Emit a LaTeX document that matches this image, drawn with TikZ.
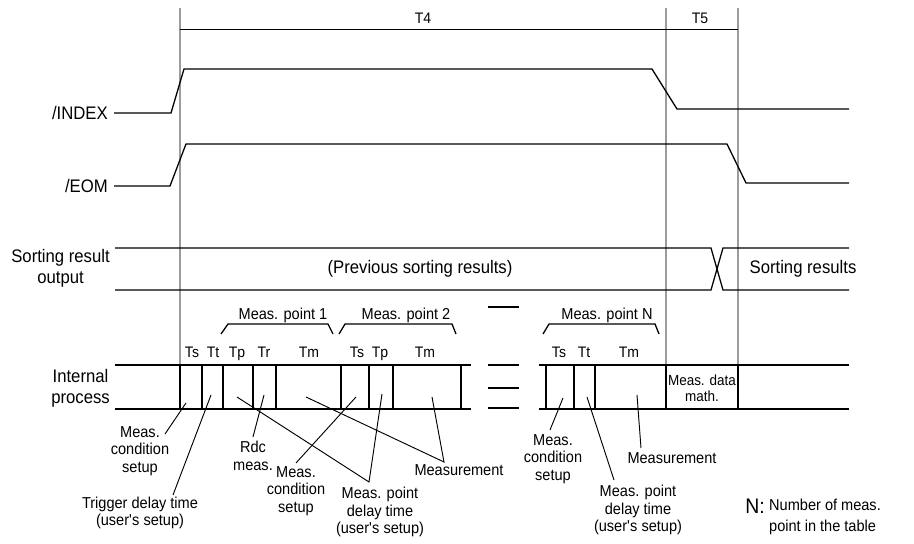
\documentclass[tikz,border=0pt]{standalone}
\usepackage{fontspec}
\setmainfont{Liberation Sans}[FakeStretch=0.92]
\usepackage{tikz}
\usetikzlibrary{positioning}
\definecolor{tdGrid}{HTML}{9C9C9C}
\newcommand{\usersetup}{(user\textquotesingle s setup)}
\tikzset{
  sig/.style={draw=black, line width=1.1pt},
  gridline/.style={draw=tdGrid, line width=0.9pt},
  leader/.style={draw=black, line width=0.8pt},
  rowlabel/.style={
    font=\fontsize{15.5}{18}\selectfont,
    align=center,
    anchor=east,
    inner sep=0pt
  },
  busText/.style={font=\fontsize{15.5}{18}\selectfont, inner sep=0pt},
  phase/.style={font=\fontsize{13}{15}\selectfont, inner sep=0pt, anchor=base},
  note/.style={
    font=\fontsize{13.5}{15}\selectfont,
    align=center,
    inner sep=0pt
  }
}

\begin{document}
\begin{tikzpicture}[x=0.03cm, y=-0.03cm]
  \useasboundingbox (0,0) rectangle (914,544);

  \draw[gridline] (180,8) -- (180,365);
  \draw[gridline] (666,8) -- (666,365);
  \draw[gridline] (738,8) -- (738,365);
  \draw[sig] (180,29.5) -- (738,29.5);
  \node[phase] (t4) at (423,24) {T4};
  \node[phase] (t5) at (700,24) {T5};

  \node[rowlabel] (index) at (108,113) {/INDEX};
  \draw[sig] (114,113) -- (171,113) -- (184,69) -- (652,69) -- (677,109) -- (849,109);

  \node[rowlabel] (eom) at (108,186) {/EOM};
  \draw[sig] (114,186) -- (170,186) -- (186,144) -- (727,144) -- (746,183) -- (849,183);

  \node[rowlabel] (sortout) at (110,268) {Sorting result\\output};
  \draw[sig] (115,248) -- (711,248) -- (723,290) -- (849,290);
  \draw[sig] (115,290) -- (711,290) -- (723,248) -- (849,248);
  \node[busText] (prevres) at (420,269) {(Previous sorting results)};
  \node[busText] (newres) at (803,269) {Sorting results};

  \node[rowlabel] (internal) at (110,388) {Internal\\process};
  \draw[sig] (115,365) -- (471,365);
  \draw[sig] (115,409) -- (471,409);
  \foreach \x in {180,202,223,253,276,341,369,393,461}
    \draw[sig] (\x,365) -- (\x,409);
  \foreach \y in {307,365,388,408}
    \draw[sig] (488,\y) -- (519,\y);
  \draw[sig] (539,365) -- (849,365);
  \draw[sig] (539,409) -- (849,409);
  \foreach \x in {546,574,595,666,738}
    \draw[sig] (\x,365) -- (\x,409);
  \node[note, font=\fontsize{12.5}{14}\selectfont] (math) at (702,388) {Meas. data\\math.};

  \draw[sig] (221,334) -- (228,324) -- (328,324) -- (333,334);
  \draw[sig] (339,334) -- (345,324) -- (452,324) -- (456,334);
  \draw[sig] (543,334) -- (549,324) -- (655,324) -- (659,334);
  \node[note] (mp1) at (283,315) {Meas. point 1};
  \node[note] (mp2) at (406,315) {Meas. point 2};
  \node[note] (mpn) at (607,315) {Meas. point N};

  \foreach \x/\t [count=\i] in {192/Ts,213/Tt,237/Tp,264/Tr,309/Tm,357/Ts,380/Tp,425/Tm,559/Ts,584/Tt,629/Tm}
    \node[phase] (ph\i) at (\x,358) {\t};

  \node[note] (cond1) at (140,451) {Meas.\\condition\\setup};
  \node[note] (trig) at (140,513) {Trigger delay time\\\usersetup};
  \node[note] (rdc) at (253,456) {Rdc\\meas.};
  \node[note] (cond2) at (296,491) {Meas.\\condition\\setup};
  \node[note] (delay1) at (380,512) {Meas. point\\delay time\\\usersetup};
  \node[note] (meas1) at (459,470) {Measurement};
  \node[note] (cond3) at (553,459) {Meas.\\condition\\setup};
  \node[note] (delay2) at (638,510) {Meas. point\\delay time\\\usersetup};
  \node[note] (meas2) at (672,458) {Measurement};

  \coordinate (cond1Tip) at (165,434);
  \coordinate (trigTip) at (173,495);
  \coordinate (rdcTip) at (253,437);
  \coordinate (cond2Tip) at (296,463);
  \coordinate (delay1Tip) at (369,482);
  \coordinate (meas1Tip) at (444,462);
  \coordinate (cond3Tip) at (550,430);
  \coordinate (delay2Tip) at (614,480);
  \coordinate (meas2Tip) at (641,448);

  \draw[leader] (186,403) -- (cond1Tip);
  \draw[leader] (211,395) -- (trigTip);
  \draw[leader] (264,395) -- (rdcTip);
  \draw[leader] (356,397) -- (cond2Tip);
  \draw[leader] (237,397) -- (delay1Tip) -- (382,394);
  \draw[leader] (306,397) -- (meas1Tip) -- (432,397);
  \draw[leader] (563,398) -- (cond3Tip);
  \draw[leader] (587,397) -- (delay2Tip);
  \draw[leader] (637,395) -- (meas2Tip);

  \node[font=\fontsize{18}{20}\selectfont, inner sep=0pt] (nkey) at (755,506) {N:};
  \node[note, align=left, anchor=north west, font=\fontsize{13.5}{17.5}\selectfont] (nkeytext) at (769,499) {Number of meas.\\point in the table};
\end{tikzpicture}
\end{document}
